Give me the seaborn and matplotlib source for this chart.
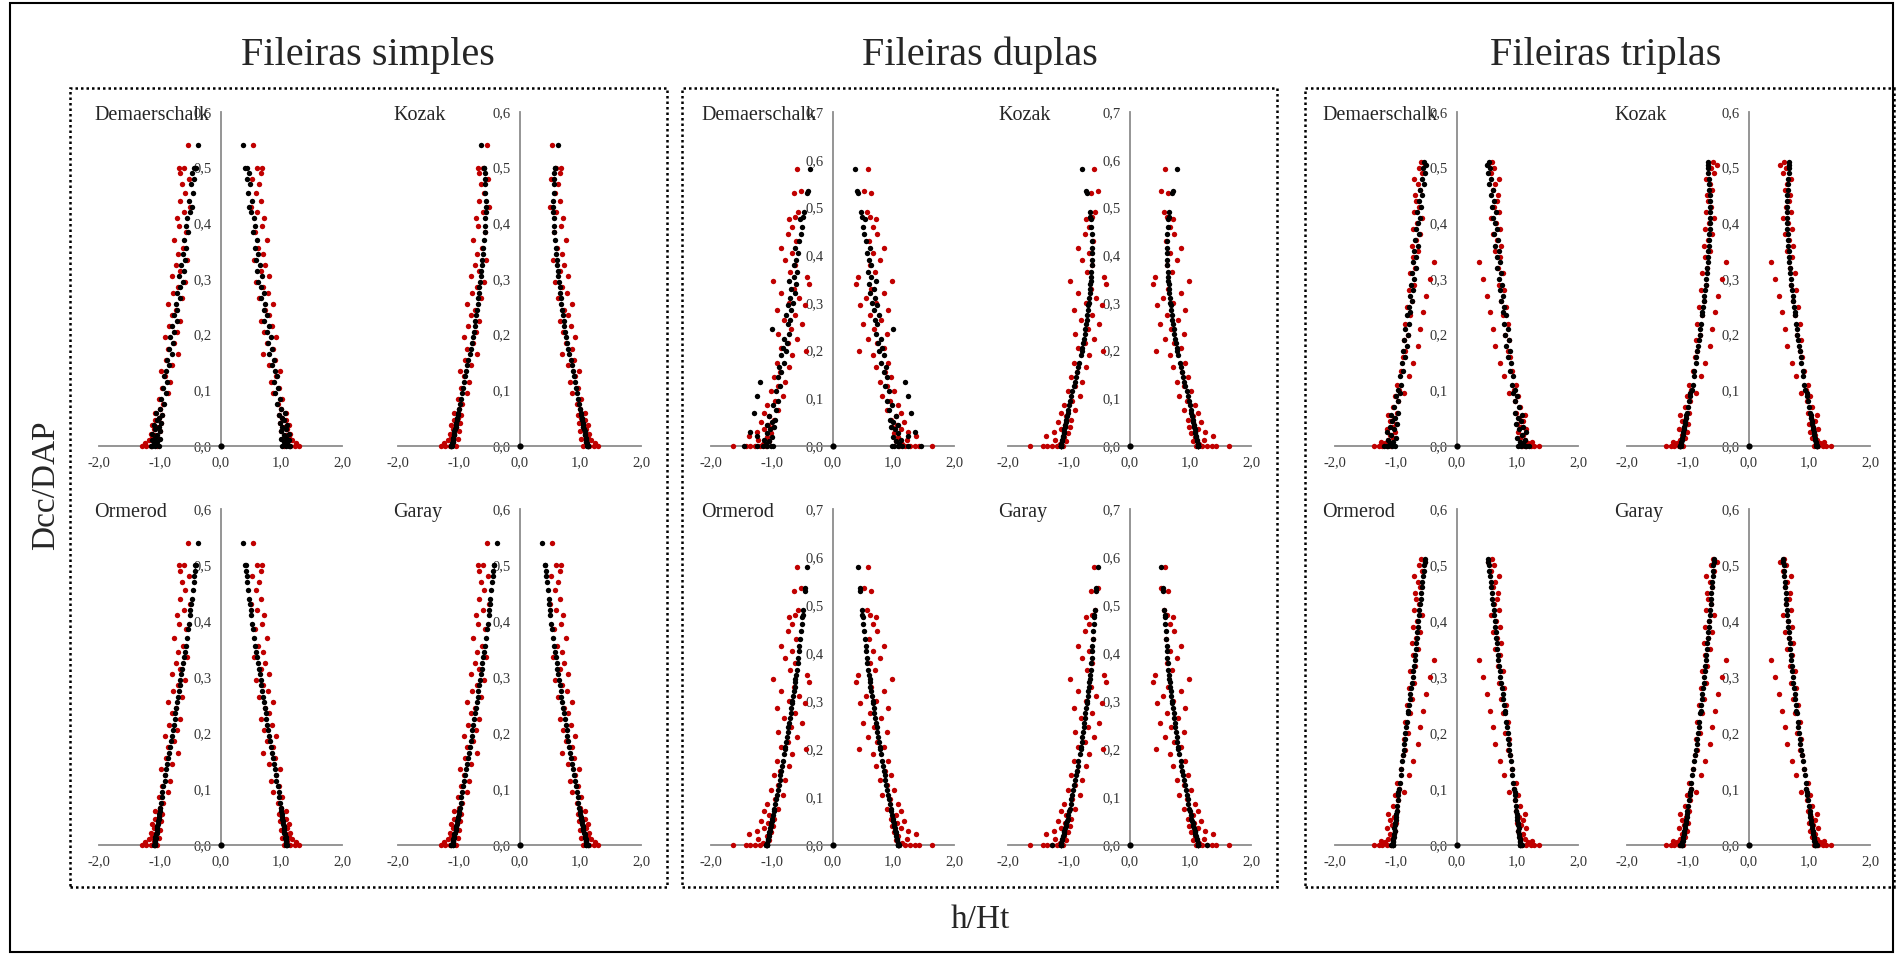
import numpy as np
import matplotlib
matplotlib.use("Agg")
import matplotlib.pyplot as plt
import seaborn as sns
from matplotlib.patches import Rectangle
from matplotlib.ticker import FuncFormatter, MultipleLocator

# ---------------- data (relative height vs. relative diameter) ----------------
model_names = ["Demaerschalk", "Kozak", "Ormerod", "Garay"]
group_titles = ["Fileiras simples", "Fileiras duplas", "Fileiras triplas"]
origin_x = [0.0]
origin_y = [0.0]

# ---- Fileiras simples ----
simples_h = [0.000, 0.000, 0.000, 0.000, 0.005, 0.008, 0.010, 0.012, 0.015, 0.020,
             0.022, 0.027, 0.030, 0.034, 0.038, 0.042, 0.046, 0.050, 0.055, 0.060,
             0.066, 0.075, 0.085, 0.095, 0.105, 0.115, 0.125, 0.135, 0.145, 0.155,
             0.165, 0.175, 0.185, 0.195, 0.205, 0.215, 0.225, 0.235, 0.245, 0.255,
             0.265, 0.275, 0.285, 0.295, 0.305, 0.315, 0.325, 0.335, 0.345, 0.355,
             0.370, 0.385, 0.395, 0.410, 0.420, 0.430, 0.440, 0.455, 0.470, 0.480,
             0.490, 0.500, 0.500, 0.540]
simples_obs = [1.30, 1.22, 1.15, 1.05, 1.25, 1.10, 1.18, 1.02, 1.12, 1.08,
               1.15, 1.00, 1.10, 1.05, 1.13, 0.98, 1.07, 1.02, 0.97, 1.08,
               1.00, 0.95, 1.02, 0.86, 0.97, 0.83, 0.92, 0.98, 0.80, 0.90,
               0.70, 0.86, 0.76, 0.92, 0.72, 0.84, 0.66, 0.80, 0.74, 0.86,
               0.64, 0.78, 0.70, 0.58, 0.80, 0.66, 0.74, 0.55, 0.70, 0.62,
               0.76, 0.56, 0.68, 0.72, 0.60, 0.50, 0.66, 0.58, 0.63, 0.52,
               0.66, 0.60, 0.68, 0.53]
simples_demaerschalk = [1.15, 1.08, 1.12, 1.02, 1.10, 1.05, 1.13, 1.00, 1.08, 1.04,
                        1.12, 0.99, 1.07, 1.02, 1.10, 0.98, 1.05, 1.01, 0.97, 1.06,
                        0.99, 0.93, 0.98, 0.90, 0.95, 0.88, 0.93, 0.89, 0.84, 0.88,
                        0.80, 0.85, 0.79, 0.83, 0.76, 0.80, 0.72, 0.77, 0.71, 0.74,
                        0.67, 0.72, 0.66, 0.62, 0.68, 0.60, 0.65, 0.58, 0.62, 0.56,
                        0.60, 0.53, 0.57, 0.55, 0.50, 0.47, 0.52, 0.46, 0.49, 0.43,
                        0.47, 0.41, 0.44, 0.375]
simples_kozak = [1.12, 1.12, 1.13, 1.11, 1.11, 1.10, 1.10, 1.09, 1.09, 1.08,
                 1.07, 1.07, 1.06, 1.05, 1.05, 1.04, 1.03, 1.03, 1.02, 1.01,
                 1.00, 0.98, 0.965, 0.95, 0.93, 0.91, 0.895, 0.875, 0.86, 0.84,
                 0.82, 0.805, 0.79, 0.77, 0.755, 0.74, 0.725, 0.715, 0.70, 0.69,
                 0.68, 0.67, 0.66, 0.65, 0.64, 0.63, 0.62, 0.615, 0.605, 0.60,
                 0.585, 0.575, 0.565, 0.56, 0.555, 0.555, 0.555, 0.56, 0.565, 0.57,
                 0.575, 0.58, 0.585, 0.64]
simples_ormerod = [1.09, 1.08, 1.10, 1.07, 1.08, 1.07, 1.08, 1.06, 1.07, 1.06,
                   1.05, 1.05, 1.04, 1.04, 1.03, 1.03, 1.02, 1.02, 1.01, 1.00,
                   0.99, 0.98, 0.97, 0.955, 0.94, 0.92, 0.91, 0.895, 0.88, 0.865,
                   0.85, 0.835, 0.82, 0.80, 0.785, 0.77, 0.755, 0.745, 0.73, 0.715,
                   0.70, 0.685, 0.67, 0.66, 0.645, 0.63, 0.615, 0.60, 0.585, 0.575,
                   0.555, 0.535, 0.52, 0.505, 0.495, 0.48, 0.47, 0.455, 0.44, 0.43,
                   0.42, 0.41, 0.415, 0.365]
simples_garay = [1.12, 1.10, 1.13, 1.09, 1.10, 1.09, 1.09, 1.08, 1.08, 1.07,
                 1.06, 1.05, 1.05, 1.04, 1.03, 1.03, 1.02, 1.01, 1.00, 0.995,
                 0.985, 0.97, 0.955, 0.94, 0.925, 0.91, 0.895, 0.88, 0.865, 0.85,
                 0.835, 0.82, 0.805, 0.79, 0.775, 0.76, 0.745, 0.73, 0.72, 0.705,
                 0.69, 0.675, 0.665, 0.65, 0.64, 0.625, 0.61, 0.60, 0.585, 0.575,
                 0.555, 0.54, 0.525, 0.51, 0.50, 0.49, 0.48, 0.465, 0.45, 0.44,
                 0.43, 0.42, 0.425, 0.375]

# ---- Fileiras duplas ----
duplas_h = [0.000, 0.000, 0.000, 0.000, 0.000, 0.000, 0.005, 0.010, 0.012, 0.018,
            0.022, 0.027, 0.030, 0.035, 0.040, 0.045, 0.050, 0.055, 0.062, 0.070,
            0.075, 0.085, 0.095, 0.105, 0.115, 0.125, 0.135, 0.145, 0.155, 0.165,
            0.175, 0.190, 0.200, 0.205, 0.215, 0.225, 0.235, 0.245, 0.255, 0.265,
            0.275, 0.285, 0.295, 0.300, 0.310, 0.320, 0.330, 0.340, 0.345, 0.355,
            0.365, 0.380, 0.390, 0.405, 0.415, 0.430, 0.445, 0.460, 0.475, 0.480,
            0.490, 0.530, 0.535, 0.580]
duplas_obs = [1.63, 1.42, 1.35, 1.28, 1.20, 1.10, 1.15, 1.05, 1.22, 1.08,
              1.38, 1.02, 1.25, 1.12, 0.98, 1.06, 1.18, 0.96, 1.04, 1.12,
              0.90, 1.08, 0.95, 0.82, 1.02, 0.90, 0.78, 0.97, 0.86, 0.72,
              0.92, 0.66, 0.44, 0.85, 0.74, 0.58, 0.90, 0.68, 0.50, 0.80,
              0.62, 0.92, 0.46, 0.72, 0.55, 0.85, 0.64, 0.38, 0.98, 0.42,
              0.70, 0.62, 0.78, 0.66, 0.85, 0.60, 0.73, 0.66, 0.72, 0.62,
              0.57, 0.64, 0.52, 0.58]
duplas_demaerschalk = [1.45, 1.25, 1.15, 1.08, 1.02, 0.98, 1.10, 1.05, 1.12, 1.00,
                       1.25, 1.07, 1.35, 1.03, 0.97, 1.08, 1.00, 0.95, 1.05, 1.30,
                       0.93, 0.98, 0.90, 1.25, 0.93, 0.87, 1.20, 0.90, 0.84, 0.88,
                       0.80, 0.85, 0.77, 0.82, 0.75, 0.80, 0.72, 1.00, 0.74, 0.70,
                       0.76, 0.68, 0.73, 0.65, 0.70, 0.62, 0.68, 0.60, 0.72, 0.63,
                       0.58, 0.64, 0.60, 0.57, 0.62, 0.55, 0.52, 0.50, 0.53, 0.49,
                       0.47, 0.42, 0.40, 0.37]
duplas_kozak = [1.13, 1.13, 1.12, 1.13, 1.12, 1.13, 1.12, 1.11, 1.11, 1.10,
                1.09, 1.085, 1.08, 1.07, 1.065, 1.055, 1.05, 1.04, 1.03, 1.02,
                1.01, 0.995, 0.98, 0.96, 0.94, 0.92, 0.90, 0.88, 0.865, 0.845,
                0.83, 0.805, 0.79, 0.78, 0.765, 0.75, 0.74, 0.725, 0.715, 0.705,
                0.695, 0.685, 0.675, 0.67, 0.665, 0.655, 0.65, 0.645, 0.64, 0.635,
                0.63, 0.625, 0.62, 0.615, 0.615, 0.62, 0.625, 0.63, 0.64, 0.645,
                0.65, 0.70, 0.71, 0.79]
duplas_ormerod = [1.08, 1.09, 1.07, 1.08, 1.10, 1.07, 1.07, 1.06, 1.06, 1.05,
                  1.045, 1.04, 1.03, 1.025, 1.015, 1.01, 1.00, 0.99, 0.98, 0.97,
                  0.96, 0.945, 0.93, 0.915, 0.90, 0.885, 0.87, 0.86, 0.845, 0.83,
                  0.815, 0.80, 0.785, 0.78, 0.765, 0.755, 0.74, 0.73, 0.715, 0.705,
                  0.69, 0.68, 0.665, 0.66, 0.65, 0.635, 0.625, 0.615, 0.61, 0.60,
                  0.59, 0.575, 0.565, 0.555, 0.545, 0.53, 0.52, 0.505, 0.495, 0.49,
                  0.48, 0.455, 0.45, 0.42]
duplas_garay = [1.28, 1.13, 1.12, 1.13, 1.12, 1.13, 1.12, 1.11, 1.105, 1.095,
                1.085, 1.075, 1.07, 1.06, 1.05, 1.04, 1.03, 1.02, 1.01, 0.995,
                0.985, 0.97, 0.955, 0.94, 0.925, 0.91, 0.895, 0.88, 0.865, 0.85,
                0.84, 0.82, 0.805, 0.80, 0.785, 0.775, 0.765, 0.755, 0.745, 0.735,
                0.725, 0.715, 0.705, 0.70, 0.69, 0.68, 0.67, 0.66, 0.655, 0.65,
                0.64, 0.63, 0.625, 0.615, 0.61, 0.60, 0.595, 0.59, 0.585, 0.58,
                0.575, 0.55, 0.545, 0.52]

# ---- Fileiras triplas ----
triplas_h = [0.000, 0.000, 0.000, 0.000, 0.000, 0.005, 0.008, 0.010, 0.015, 0.020,
             0.025, 0.030, 0.035, 0.040, 0.045, 0.050, 0.055, 0.060, 0.070, 0.080,
             0.090, 0.095, 0.100, 0.110, 0.125, 0.135, 0.150, 0.160, 0.170, 0.180,
             0.190, 0.200, 0.210, 0.220, 0.235, 0.240, 0.250, 0.260, 0.270, 0.280,
             0.290, 0.300, 0.310, 0.320, 0.330, 0.340, 0.350, 0.360, 0.370, 0.380,
             0.390, 0.400, 0.410, 0.420, 0.430, 0.440, 0.450, 0.460, 0.470, 0.480,
             0.490, 0.500, 0.505, 0.510]
triplas_obs = [1.35, 1.28, 1.22, 1.15, 1.08, 1.18, 1.25, 1.12, 1.05, 1.10,
               1.02, 1.14, 1.06, 0.99, 1.09, 1.03, 1.12, 0.98, 1.05, 0.96,
               1.02, 0.87, 0.94, 0.98, 0.78, 0.92, 0.72, 0.88, 0.84, 0.64,
               0.86, 0.80, 0.60, 0.84, 0.76, 0.55, 0.82, 0.74, 0.50, 0.78,
               0.70, 0.44, 0.76, 0.68, 0.37, 0.72, 0.64, 0.74, 0.66, 0.60,
               0.72, 0.65, 0.56, 0.70, 0.62, 0.66, 0.68, 0.60, 0.63, 0.70,
               0.57, 0.62, 0.52, 0.58]
triplas_demaerschalk = [1.20, 1.12, 1.06, 1.15, 1.02, 1.10, 1.04, 1.13, 1.00, 1.08,
                        1.15, 1.03, 1.10, 0.98, 1.06, 1.01, 1.08, 0.97, 1.03, 0.96,
                        1.00, 0.93, 0.97, 0.91, 0.93, 0.88, 0.90, 0.84, 0.88, 0.82,
                        0.86, 0.80, 0.84, 0.78, 0.82, 0.76, 0.79, 0.73, 0.77, 0.71,
                        0.75, 0.70, 0.73, 0.67, 0.72, 0.66, 0.70, 0.64, 0.68, 0.62,
                        0.67, 0.63, 0.60, 0.65, 0.58, 0.62, 0.57, 0.60, 0.54, 0.57,
                        0.52, 0.55, 0.50, 0.53]
triplas_kozak = [1.12, 1.12, 1.13, 1.12, 1.11, 1.11, 1.105, 1.10, 1.09, 1.08,
                 1.075, 1.065, 1.06, 1.05, 1.04, 1.03, 1.025, 1.015, 1.00, 0.985,
                 0.97, 0.965, 0.93, 0.92, 0.90, 0.89, 0.87, 0.86, 0.845, 0.83,
                 0.82, 0.805, 0.795, 0.78, 0.765, 0.76, 0.75, 0.74, 0.725, 0.715,
                 0.705, 0.695, 0.685, 0.68, 0.67, 0.665, 0.66, 0.655, 0.65, 0.645,
                 0.64, 0.64, 0.635, 0.635, 0.635, 0.64, 0.64, 0.645, 0.65, 0.655,
                 0.66, 0.665, 0.665, 0.67]
triplas_ormerod = [1.05, 1.06, 1.04, 1.05, 1.07, 1.05, 1.04, 1.045, 1.03, 1.035,
                   1.02, 1.025, 1.01, 1.005, 1.00, 0.99, 0.995, 0.985, 0.975, 0.965,
                   0.955, 0.955, 0.945, 0.935, 0.92, 0.91, 0.895, 0.88, 0.87, 0.86,
                   0.85, 0.84, 0.825, 0.815, 0.80, 0.795, 0.78, 0.77, 0.76, 0.745,
                   0.735, 0.72, 0.715, 0.70, 0.69, 0.68, 0.67, 0.66, 0.655, 0.645,
                   0.635, 0.63, 0.62, 0.61, 0.60, 0.59, 0.58, 0.57, 0.56, 0.55,
                   0.54, 0.53, 0.525, 0.52]
triplas_garay = [1.10, 1.11, 1.10, 1.12, 1.10, 1.09, 1.085, 1.08, 1.07, 1.065,
                 1.055, 1.05, 1.04, 1.035, 1.025, 1.02, 1.01, 1.005, 0.99, 0.98,
                 0.965, 0.96, 0.95, 0.94, 0.925, 0.91, 0.895, 0.88, 0.87, 0.855,
                 0.845, 0.835, 0.82, 0.81, 0.795, 0.79, 0.78, 0.77, 0.76, 0.75,
                 0.74, 0.73, 0.72, 0.71, 0.70, 0.695, 0.685, 0.675, 0.67, 0.66,
                 0.655, 0.645, 0.64, 0.63, 0.625, 0.62, 0.61, 0.605, 0.60, 0.59,
                 0.585, 0.58, 0.575, 0.57]

# ---------------- style ----------------
sns.set_style("white")
plt.rcParams["font.family"] = ["Liberation Serif", "DejaVu Serif"]

W, H = 1901, 955
fig = plt.figure(figsize=(W / 100, H / 100), dpi=100)


def fx(px):
    return px / W


def fy(py):
    return 1 - py / H


RED = "#c00000"
AX_GRAY = "#8c8c8c"
groups = [
    (group_titles[0], simples_h, simples_obs,
     [simples_demaerschalk, simples_kozak, simples_ormerod, simples_garay], 0.6),
    (group_titles[1], duplas_h, duplas_obs,
     [duplas_demaerschalk, duplas_kozak, duplas_ormerod, duplas_garay], 0.7),
    (group_titles[2], triplas_h, triplas_obs,
     [triplas_demaerschalk, triplas_kozak, triplas_ormerod, triplas_garay], 0.6),
]
col_lefts = [(99, 398), (711, 1008), (1335, 1627)]
label_offsets = [5, 10, 13]
title_xs = [368, 980, 1606]
boxes = [(70, 667), (682, 1277), (1305, 1894)]
row_spans = [(112, 446), (509, 845)]
AX_W = 243
DOT = 15


def fmt(v, pos):
    v = round(v, 6) + 0.0
    return f"{v:.1f}".replace(".", ",")


for g, (title, hh, obs, models, ymax) in enumerate(groups):
    fig.text(fx(title_xs[g]), fy(55), title, ha="center", va="center", fontsize=29)
    bx0, bx1 = boxes[g]
    fig.patches.append(Rectangle((fx(bx0), fy(887)), (bx1 - bx0) / W, (887 - 88) / H,
                                 transform=fig.transFigure, fill=False, ec="black",
                                 lw=1.8, ls=(0, (1, 1.2))))
    for k, (name, est) in enumerate(zip(model_names, models)):
        r, c = divmod(k, 2)
        top, bot = row_spans[r]
        left = col_lefts[g][c]
        ax = fig.add_axes([fx(left), fy(bot), AX_W / W, (bot - top) / H])
        ax.patch.set_alpha(0)
        for sgn in (-1, 1):
            sns.scatterplot(x=sgn * np.asarray(obs), y=hh, color=RED, s=DOT,
                            linewidth=0, ax=ax, clip_on=False, legend=False, zorder=3)
        for sgn in (-1, 1):
            sns.scatterplot(x=sgn * np.asarray(est), y=hh, color="black", s=DOT,
                            linewidth=0, ax=ax, clip_on=False, legend=False, zorder=4)
        sns.scatterplot(x=origin_x, y=origin_y, color="black", s=20, linewidth=0,
                        ax=ax, clip_on=False, legend=False, zorder=4)
        ax.set_xlim(-2, 2)
        ax.set_ylim(0, ymax)
        ax.set_xlabel("")
        ax.set_ylabel("")
        ax.spines["left"].set_position(("data", 0))
        ax.spines["top"].set_visible(False)
        ax.spines["right"].set_visible(False)
        for sp in ("left", "bottom"):
            ax.spines[sp].set_color(AX_GRAY)
            ax.spines[sp].set_linewidth(1.3)
        ax.xaxis.set_major_locator(MultipleLocator(1))
        ax.yaxis.set_major_locator(MultipleLocator(0.1))
        ax.xaxis.set_major_formatter(FuncFormatter(fmt))
        ax.yaxis.set_major_formatter(FuncFormatter(fmt))
        ax.tick_params(axis="both", direction="out", length=3.5, width=1,
                       color=AX_GRAY, labelcolor="#333333", labelsize=10.5)
        ax.tick_params(axis="x", pad=4)
        ax.tick_params(axis="y", pad=3)
        ax.grid(False)
        fig.text(fx(left - label_offsets[g]), fy(top + 3), name, ha="left",
                 va="center", fontsize=14.5)

fig.text(fx(46), fy(485), "Dcc/DAP", rotation=90, ha="center", va="center", fontsize=24)
fig.text(fx(980), fy(920), "h/Ht", ha="center", va="center", fontsize=24)
fig.patches.append(Rectangle((fx(10), fy(952)), (1893 - 10) / W, (952 - 3) / H,
                             transform=fig.transFigure, fill=False, ec="black", lw=1.5))

fig.savefig("out.png", dpi=100)
